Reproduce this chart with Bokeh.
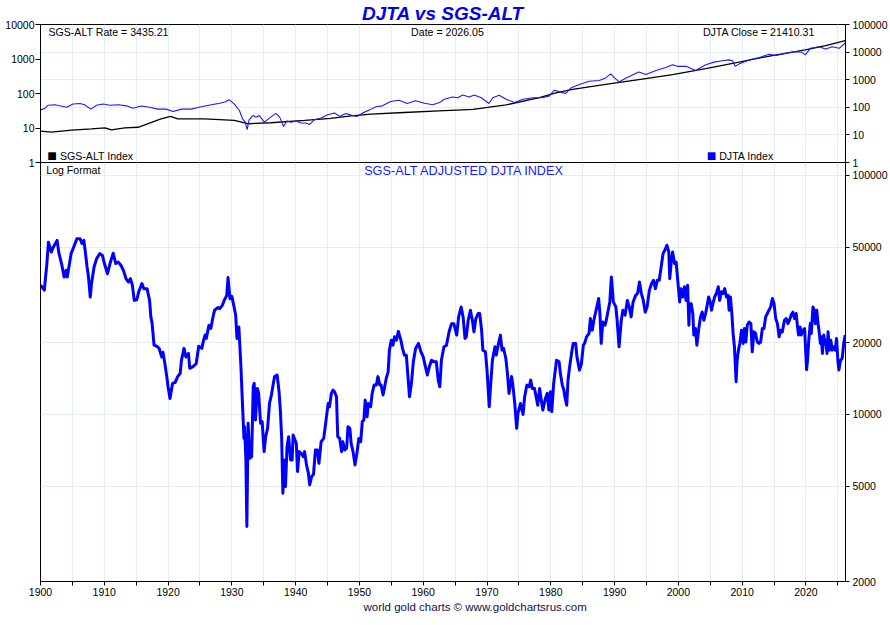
from bokeh.plotting import figure
from bokeh.models import (Range1d, LogScale, LogAxis, FixedTicker, NumeralTickFormatter, Label,
                          InlineStyleSheet, Title)
from bokeh.layouts import column
from bokeh.embed import file_html
from bokeh.resources import INLINE

# ---------------- data ----------------
ADJ_YEAR = [
    1900.0, 1900.6, 1901.0, 1901.25, 1901.7, 1902.0, 1902.6, 1902.9, 1903.3, 1903.7, 1904.0, 1904.2,
    1904.8, 1905.2, 1905.7, 1906.2, 1906.5, 1906.8, 1907.0, 1907.3, 1907.5, 1907.8, 1908.0, 1908.4,
    1908.8, 1909.3, 1909.7, 1910.1, 1910.5, 1910.9, 1911.4, 1911.8, 1912.2, 1912.6, 1913.0, 1913.4,
    1913.8, 1914.1, 1914.4, 1914.7, 1915.1, 1915.4, 1915.9, 1916.2, 1916.7, 1917.1, 1917.3, 1917.5,
    1917.8, 1918.2, 1918.6, 1919.0, 1919.2, 1919.5, 1919.8, 1920.0, 1920.3, 1920.7, 1921.1, 1921.5,
    1921.9, 1922.1, 1922.5, 1922.8, 1923.2, 1923.4, 1923.9, 1924.4, 1924.6, 1924.8, 1925.3, 1925.5,
    1925.8, 1926.0, 1926.4, 1926.7, 1927.1, 1927.3, 1927.8, 1928.1, 1928.5, 1928.8, 1929.2, 1929.4,
    1929.7, 1930.0, 1930.3, 1930.6, 1930.8, 1931.1, 1931.4, 1931.7, 1931.9, 1932.0, 1932.2, 1932.35,
    1932.55, 1932.8, 1933.1, 1933.35, 1933.5, 1933.7, 1934.0, 1934.2, 1934.5, 1934.75, 1935.05, 1935.3,
    1935.6, 1935.9, 1936.2, 1936.5, 1936.7, 1937.1, 1937.4, 1937.6, 1937.8, 1938.0, 1938.2, 1938.4,
    1938.65, 1938.9, 1939.2, 1939.45, 1939.6, 1939.9, 1940.1, 1940.3, 1940.55, 1940.9, 1941.2, 1941.4,
    1941.7, 1942.0, 1942.2, 1942.5, 1942.8, 1943.1, 1943.4, 1943.65, 1944.0, 1944.4, 1944.7, 1945.1,
    1945.3, 1945.6, 1945.85, 1946.1, 1946.4, 1946.6, 1946.9, 1947.2, 1947.4, 1947.7, 1948.0, 1948.2,
    1948.5, 1948.7, 1949.0, 1949.3, 1949.6, 1949.9, 1950.2, 1950.45, 1950.7, 1950.9, 1951.2, 1951.4,
    1951.75, 1952.0, 1952.3, 1952.65, 1952.9, 1953.2, 1953.4, 1953.7, 1953.9, 1954.2, 1954.5, 1954.7,
    1955.0, 1955.25, 1955.5, 1955.8, 1956.1, 1956.5, 1956.75, 1957.05, 1957.35, 1957.65, 1957.85, 1958.15,
    1958.45, 1958.8, 1959.25, 1959.65, 1960.0, 1960.35, 1960.65, 1960.95, 1961.3, 1961.75, 1962.05, 1962.35,
    1962.6, 1962.85, 1963.25, 1963.65, 1964.05, 1964.45, 1964.8, 1965.25, 1965.55, 1965.95, 1966.25, 1966.55,
    1966.75, 1967.05, 1967.4, 1967.75, 1967.95, 1968.25, 1968.6, 1968.85, 1969.15, 1969.35, 1969.75, 1970.0,
    1970.35, 1970.55, 1970.85, 1971.25, 1971.45, 1971.75, 1972.1, 1972.35, 1972.6, 1972.95, 1973.2, 1973.45,
    1973.85, 1974.05, 1974.35, 1974.65, 1974.85, 1975.25, 1975.65, 1975.9, 1976.25, 1976.6, 1976.85, 1977.1,
    1977.45, 1977.75, 1977.95, 1978.25, 1978.55, 1978.75, 1979.15, 1979.45, 1979.7, 1979.95, 1980.15, 1980.45,
    1980.9, 1981.3, 1981.5, 1981.8, 1982.05, 1982.2, 1982.5, 1982.7, 1982.95, 1983.25, 1983.5, 1983.9,
    1984.1, 1984.5, 1984.8, 1985.1, 1985.3, 1985.6, 1986.0, 1986.2, 1986.5, 1986.75, 1987.1, 1987.5,
    1987.7, 1987.9, 1988.15, 1988.5, 1988.7, 1989.0, 1989.25, 1989.5, 1989.8, 1990.2, 1990.4, 1990.7,
    1991.05, 1991.3, 1991.65, 1992.0, 1992.3, 1992.6, 1992.9, 1993.3, 1993.6, 1993.9, 1994.2, 1994.5,
    1994.8, 1995.1, 1995.45, 1995.8, 1996.1, 1996.4, 1996.7, 1997.0, 1997.3, 1997.6, 1997.85, 1998.2,
    1998.5, 1998.65, 1998.9, 1999.1, 1999.4, 1999.65, 1999.9, 2000.2, 2000.4, 2000.7, 2000.95, 2001.2,
    2001.45, 2001.65, 2001.75, 2002.0, 2002.26, 2002.42, 2002.68, 2002.9, 2003.2, 2003.47, 2003.74, 2004.0,
    2004.26, 2004.47, 2004.74, 2005.0, 2005.2, 2005.42, 2005.68, 2005.95, 2006.26, 2006.47, 2006.74, 2007.0,
    2007.26, 2007.53, 2007.79, 2007.95, 2008.16, 2008.37, 2008.58, 2008.79, 2009.05, 2009.21, 2009.42, 2009.63,
    2009.9, 2010.16, 2010.37, 2010.58, 2010.79, 2011.1, 2011.37, 2011.58, 2011.84, 2012.1, 2012.37, 2012.63,
    2012.9, 2013.16, 2013.42, 2013.68, 2013.95, 2014.2, 2014.47, 2014.74, 2015.0, 2015.26, 2015.53, 2015.79,
    2016.05, 2016.3, 2016.63, 2016.9, 2017.16, 2017.42, 2017.68, 2017.95, 2018.2, 2018.47, 2018.68, 2018.84,
    2019.1, 2019.26, 2019.53, 2019.79, 2020.1, 2020.25, 2020.42, 2020.68, 2020.84, 2021.1, 2021.3, 2021.47,
    2021.7, 2021.9, 2022.1, 2022.26, 2022.42, 2022.58, 2022.8, 2022.95, 2023.1, 2023.3, 2023.47, 2023.68,
    2023.9, 2024.1, 2024.37, 2024.58, 2024.8, 2025.0, 2025.16, 2025.42, 2025.68, 2025.95, 2026.15,
]
ADJ_VALUE = [
    34750, 33100, 42800, 52600, 47800, 50100, 53500, 47100, 42800, 37600, 40100, 37600,
    47100, 50100, 54400, 54400, 51900, 53500, 48600, 41400, 38200, 31000, 35300, 41400,
    44900, 47100, 46300, 42100, 38800, 42800, 47300, 42800, 43400, 42100, 40100, 37000,
    35800, 37000, 34750, 30000, 30200, 32600, 35300, 33600, 33600, 30000, 25600, 24000,
    19500, 19300, 18900, 17400, 18200, 16300, 14400, 13060, 11670, 13490, 13600, 14400,
    14860, 16870, 18900, 17400, 18000, 15600, 15850, 16300, 17700, 19300, 18900, 20100,
    21500, 20800, 23600, 22900, 26000, 27300, 28000, 27700, 28600, 30000, 31500, 37400,
    30500, 31200, 28600, 26000, 20800, 23200, 16300, 10500, 7940, 8890, 6450, 3400,
    9180, 6550, 6660, 13060, 13490, 9480, 12850, 12250, 9180, 9330, 6990, 8070,
    8750, 11120, 12060, 13490, 14400, 14620, 12450, 10430, 8070, 4680, 6450, 4990,
    7330, 8070, 6450, 6450, 8200, 7820, 7570, 5770, 6990, 6860, 6660, 6990,
    6150, 5680, 5070, 5490, 5620, 7100, 7100, 6250, 7690, 7940, 9180, 11120,
    10770, 12250, 12650, 12450, 11860, 8070, 7940, 6990, 7690, 7100, 7220, 8890,
    8750, 7570, 6990, 6150, 6860, 7940, 7690, 9330, 9480, 11480, 9780, 11120,
    10770, 12250, 13270, 13270, 14400, 13270, 13270, 12060, 12850, 14150, 15070, 18580,
    20460, 19500, 21130, 20460, 22270, 20460, 18900, 17710, 17710, 13930, 11860, 13490,
    16600, 18900, 19820, 18280, 17420, 15820, 14620, 15820, 16870, 16600, 16600, 13930,
    13060, 16870, 19190, 19500, 22170, 23990, 23990, 21480, 25590, 28180, 25590, 20800,
    21130, 24790, 27290, 24380, 22170, 25190, 26440, 26440, 22520, 18580, 18280, 15330,
    10770, 13060, 16870, 19190, 17710, 19500, 21480, 18580, 18900, 17150, 14860, 12250,
    14400, 13270, 11120, 8750, 10100, 11120, 10000, 11860, 13270, 13060, 13930, 12850,
    12850, 11670, 10930, 12850, 11290, 10430, 11670, 12250, 10430, 12450, 10270, 13490,
    16870, 16600, 14860, 13270, 12650, 11860, 10930, 13930, 15820, 18000, 19820, 19820,
    17420, 15330, 16300, 19500, 19820, 21130, 21830, 25190, 22520, 24790, 27290, 30540,
    26440, 19820, 24380, 23620, 24790, 27290, 29570, 37610, 29570, 28180, 24790, 19190,
    24790, 27290, 26040, 30000, 28180, 25590, 29570, 31500, 32060, 35800, 32060, 30000,
    26800, 28180, 33060, 35300, 36410, 33600, 36410, 36410, 41410, 47100, 48580, 51050,
    47800, 37000, 44160, 47800, 42800, 43420, 36410, 29570, 33600, 31000, 34210, 30000,
    34750, 23620, 28180, 29100, 26440, 21480, 22890, 19500, 22890, 25590, 26800, 24790,
    26440, 28180, 31000, 29570, 27290, 29100, 31000, 32060, 34210, 30000, 32600, 32060,
    33600, 31000, 31500, 27290, 31000, 26800, 21830, 19190, 13700, 16870, 18580, 19820,
    22520, 19820, 22890, 20100, 23620, 24380, 23990, 18280, 22170, 21830, 20100, 19820,
    20100, 22890, 22890, 25590, 26440, 27290, 28180, 30540, 29100, 25190, 23990, 21130,
    22520, 22170, 24790, 25190, 23990, 24790, 26040, 26800, 25190, 26440, 23200, 21480,
    23200, 21480, 22520, 22890, 15400, 16870, 20100, 23990, 21830, 28180, 27290, 23990,
    27290, 23990, 21830, 19820, 21130, 18000, 21480, 19820, 20460, 18000, 22170, 18580,
    20460, 18580, 19190, 18580, 20800, 16870, 15330, 16870, 17150, 20100, 21480,
]

SGS_YEAR = [1900.0, 1901.7, 1904.9, 1908.0, 1910.1, 1911.1, 1913.2, 1915.3, 1917.4, 1918.9, 1920.4,
            1921.5, 1925.7, 1930.4, 1932.5, 1936.1, 1941.4, 1945.5, 1948.7, 1951.8, 1957.0, 1962.5,
            1967.8, 1973.0, 1978.2, 1980.8, 1983.4, 1988.6, 1993.8, 1999.1, 2004.3, 2009.5, 2014.7,
            2019.9, 2023.1, 2026.15]
SGS_VALUE = [8.1, 7.6, 8.7, 9.4, 10.1, 8.8, 10.1, 10.5, 14.5, 18.4, 21.6,
             18.4, 18.4, 16.6, 13.3, 14.2, 16.6, 19.0, 22.6, 25.4, 28.1, 31.3,
             34.8, 46.6, 76, 105, 132, 183, 254, 354, 525, 810, 1260,
             1830, 2430, 3435]

DJTA_YEAR = [1900.0, 1900.7, 1901.2, 1902.25, 1903.0, 1904.1, 1905.1, 1906.2, 1906.9, 1907.9, 1908.8,
             1909.8, 1910.9, 1912.2, 1913.5, 1914.5, 1915.8, 1917.1, 1918.4, 1919.7, 1920.8, 1922.1,
             1923.6, 1925.2, 1926.8, 1928.1, 1928.9, 1929.6, 1930.4, 1931.2, 1931.7, 1932.1, 1932.4,
             1932.7, 1933.3, 1933.8, 1934.3, 1935.1, 1936.2, 1936.9, 1937.5, 1938.1, 1938.6, 1939.3,
             1940.1, 1940.8, 1941.6, 1942.2, 1942.9, 1944.0, 1945.0, 1946.1, 1946.9, 1947.9, 1948.9,
             1949.7, 1950.5, 1951.5, 1952.6, 1953.6, 1954.9, 1956.2, 1957.5, 1958.8, 1960.2, 1961.5,
             1962.55, 1963.3, 1964.6, 1965.4, 1966.2, 1967.2, 1968.0, 1969.1, 1970.3, 1970.9, 1971.9,
             1973.0, 1974.3, 1975.6, 1977.2, 1978.7, 1979.8, 1980.5, 1981.3, 1982.3, 1983.2, 1984.5,
             1986.0, 1987.6, 1988.6, 1989.4, 1990.0, 1990.7, 1991.8, 1993.8, 1994.9, 1996.5, 1998.0,
             1999.1, 1999.8, 2001.2, 2002.7, 2004.3, 2005.6, 2006.9, 2007.9, 2008.5, 2008.9, 2009.5,
             2011.1, 2012.7, 2014.2, 2015.3, 2016.8, 2018.4, 2019.4, 2019.9, 2020.7, 2022.0, 2023.1,
             2024.1, 2025.2, 2026.15]
DJTA_VALUE = [79, 93, 119, 123, 113, 100, 131, 138, 123, 86, 119,
              131, 119, 123, 113, 93, 111, 100, 86, 86, 71, 86,
              86, 104, 123, 141, 156, 186, 131, 75, 37, 29, 15.5,
              35, 50, 44, 50, 29, 46, 60, 44, 20, 32, 29,
              32, 27, 27, 24, 35, 41, 54, 62, 47, 60, 50,
              47, 62, 79, 104, 113, 162, 180, 138, 172, 141, 123,
              148, 196, 236, 222, 280, 236, 280, 222, 138, 222, 271,
              196, 148, 196, 222, 222, 259, 414, 370, 315, 513, 670,
              880, 940, 1160, 1620, 1160, 830, 1160, 1900, 1530, 2140, 2790,
              3500, 3050, 3050, 2140, 3500, 4330, 4860, 5220, 4860, 3050, 3670,
              5220, 6320, 8340, 7500, 9010, 10400, 9820, 7950, 13700, 15700, 13000,
              15700, 13700, 21410]

TOP_LEFT_TICKS = [1, 10, 100, 1000, 10000]
TOP_RIGHT_TICKS = [1, 10, 100, 1000, 10000, 100000]
BOTTOM_TICKS = [2000, 5000, 10000, 20000, 50000, 100000]
X_MAJOR = list(range(1900, 2021, 10))
X_MINOR = list(range(1905, 2026, 10))

# ---------------- styling ----------------
FONT = "Liberation Sans"
BLUE = "#0000f5"
GRID = "#e3eef8"
W = 890
BL, BR = 40, 44
OVERLAP = 8
X_START, X_END = 1900, 2026.2

xr = Range1d(X_START, X_END)


def style_axis(ax, standoff=2, tick=4):
    ax.major_label_text_font = FONT
    ax.major_label_text_font_size = "10.5px"
    ax.major_label_text_color = "black"
    ax.major_label_standoff = standoff
    ax.major_tick_out = tick
    ax.major_tick_in = 0
    ax.minor_tick_out = tick
    ax.minor_tick_in = 0
    ax.axis_line_color = "black"
    ax.major_tick_line_color = "black"
    ax.minor_tick_line_color = "black"


def add_text(p, x, y, text, align="left", size="10.6px", color="black", style="normal",
             baseline="middle"):
    p.add_layout(Label(x=x, y=y, text=text, text_align=align, text_baseline=baseline,
                       text_font=FONT, text_font_size=size, text_color=color,
                       text_font_style=style))


# ---------------- top panel ----------------
top = figure(width=W, height=22 + 140 + OVERLAP, output_backend="svg", toolbar_location=None,
             x_range=xr, y_range=Range1d(1, 100000), y_axis_type="log",
             x_axis_location=None, y_axis_location="right",
             min_border_left=BL, min_border_right=BR, min_border_top=22,
             min_border_bottom=OVERLAP)
top.outline_line_color = "black"
top.outline_line_alpha = 1

top.title.text = "DJTA vs SGS-ALT"
top.title.align = "center"
top.title.text_font = FONT
top.title.text_font_size = "19px"
top.title.text_font_style = "bold italic"
top.title.text_color = BLUE
top.title.standoff = 1
top.title.offset = 2

top.extra_y_ranges = {"sgs": Range1d(1, 10000)}
top.extra_y_scales = {"sgs": LogScale()}
left_ax = LogAxis(y_range_name="sgs", ticker=FixedTicker(ticks=TOP_LEFT_TICKS, minor_ticks=[]),
                  formatter=NumeralTickFormatter(format="0"))
style_axis(left_ax, standoff=1, tick=5)
top.add_layout(left_ax, "left")

right_ax = top.right[0]
right_ax.ticker = FixedTicker(ticks=TOP_RIGHT_TICKS, minor_ticks=[])
right_ax.formatter = NumeralTickFormatter(format="0")
style_axis(right_ax, standoff=3, tick=4)

top.xgrid.ticker = FixedTicker(ticks=X_MAJOR, minor_ticks=X_MINOR)
top.xgrid.grid_line_color = GRID
top.xgrid.minor_grid_line_color = GRID
top.ygrid.ticker = FixedTicker(ticks=TOP_RIGHT_TICKS[1:-1], minor_ticks=[])
top.ygrid.grid_line_color = GRID

top.line(SGS_YEAR, SGS_VALUE, y_range_name="sgs", line_color="black", line_width=1.3)
top.line(DJTA_YEAR, DJTA_VALUE, line_color="#1a1aff", line_width=1.1)

add_text(top, 1901.25, 54900, "SGS-ALT Rate = 3435.21")
add_text(top, 1963.8, 54900, "Date = 2026.05", align="center")
add_text(top, 2021.4, 54900, "DJTA Close = 21410.31", align="right")

# legend keys and labels
add_text(top, 1901.05, 1.72, "\u25a0", size="16px", color="black")
add_text(top, 1903.05, 1.72, "SGS-ALT Index")
add_text(top, 2004.45, 1.72, "\u25a0", size="16px", color="#0000ff")
add_text(top, 2006.4, 1.72, "DJTA Index")

# ---------------- bottom panel ----------------
# drawn 8px higher so that it overlaps the top panel's lower border (transparent backgrounds)
bot = figure(width=W, height=419 + 35, output_backend="svg", toolbar_location=None,
             x_range=xr, y_range=Range1d(2000, 113300), y_axis_type="log",
             y_axis_location="right",
             min_border_left=BL, min_border_right=BR, min_border_top=0,
             min_border_bottom=35)
bot.styles = {"transform": "translateY(-%dpx)" % OVERLAP}
bot.stylesheets = [InlineStyleSheet(css=":host { transform: translateY(-%dpx) !important; }" % OVERLAP)]
bot.border_fill_alpha = 0
bot.background_fill_alpha = 0
bot.outline_line_color = "black"
bot.outline_line_alpha = 1
bot_y = bot.right[0]
bot_y.ticker = FixedTicker(ticks=BOTTOM_TICKS, minor_ticks=[])
bot_y.formatter = NumeralTickFormatter(format="0")
style_axis(bot_y, standoff=3, tick=4)
bot.xaxis[0].ticker = FixedTicker(ticks=X_MAJOR, minor_ticks=X_MINOR)
style_axis(bot.xaxis[0], standoff=2, tick=4)

bot.xgrid.ticker = FixedTicker(ticks=X_MAJOR, minor_ticks=X_MINOR)
bot.xgrid.grid_line_color = GRID
bot.xgrid.minor_grid_line_color = GRID
bot.ygrid.ticker = FixedTicker(ticks=BOTTOM_TICKS[1:], minor_ticks=[])
bot.ygrid.grid_line_color = GRID

bot.line(ADJ_YEAR, ADJ_VALUE, line_color="#0000ff", line_width=3, line_join="round")

add_text(bot, 1900.9, 105800, "Log Format")
add_text(bot, 1966.45, 104600, "SGS-ALT ADJUSTED DJTA INDEX", align="center", size="12.7px",
         color="#1a1aff")

credit = Title(text="world gold charts \u00a9 www.goldchartsrus.com", align="left", offset=323,
               standoff=0, text_font=FONT, text_font_size="11.5px", text_font_style="normal",
               text_color="#10104a")
bot.add_layout(credit, "below")

layout = column(top, bot, spacing=0)
open("out.html", "w").write(file_html(layout, INLINE))
